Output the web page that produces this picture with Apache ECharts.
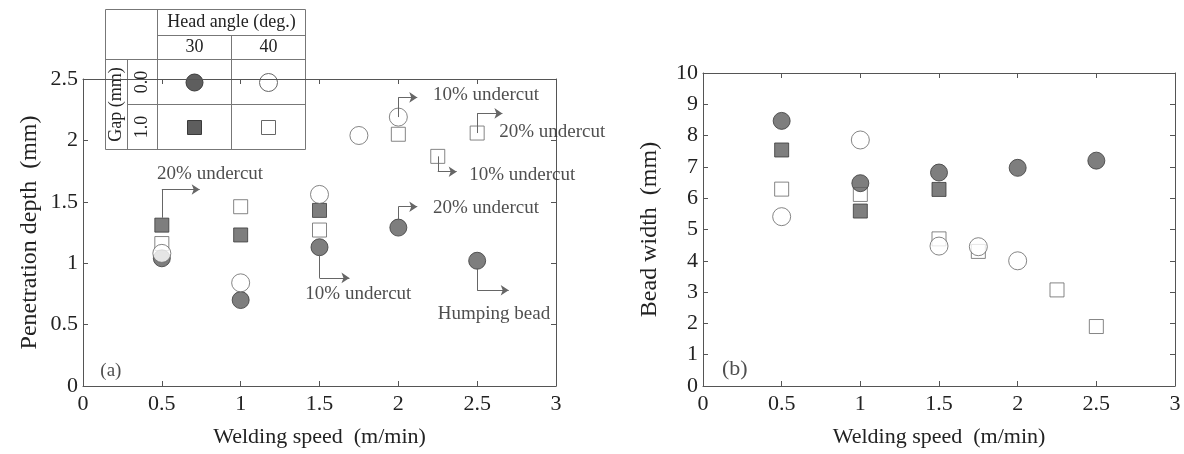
<!DOCTYPE html>
<html><head><meta charset="utf-8">
<script src="https://cdn.jsdelivr.net/npm/echarts@6/dist/echarts.min.js"></script>
<style>html,body{margin:0;padding:0;background:#fff}#c{width:1184px;height:454px}</style>
</head><body><div id="c"></div>
<script>
// ---------- (a) Penetration depth ----------
const aFilledCircleX = [0.5, 1.0, 1.5, 2.0, 2.5];
const aFilledCircleY = [1.04, 0.70, 1.13, 1.29, 1.02];
const aFilledSquareX = [0.5, 1.0, 1.5];
const aFilledSquareY = [1.31, 1.23, 1.43];
const aOpenCircleX = [0.5, 1.0, 1.5, 1.75, 2.0];
const aOpenCircleY = [1.08, 0.84, 1.56, 2.04, 2.19];
const aOpenSquareX = [0.5, 1.0, 1.5, 2.0, 2.25, 2.5];
const aOpenSquareY = [1.16, 1.46, 1.27, 2.05, 1.87, 2.06];

// ---------- (b) Bead width ----------
const bFilledCircleX = [0.5, 1.0, 1.5, 2.0, 2.5];
const bFilledCircleY = [8.47, 6.48, 6.82, 6.97, 7.20];
const bFilledSquareX = [0.5, 1.0, 1.5];
const bFilledSquareY = [7.54, 5.59, 6.28];
const bOpenCircleX = [0.5, 1.0, 1.5, 1.75, 2.0];
const bOpenCircleY = [5.41, 7.86, 4.47, 4.45, 4.00];
const bOpenSquareX = [0.5, 1.0, 1.5, 1.75, 2.25, 2.5];
const bOpenSquareY = [6.29, 6.12, 4.70, 4.30, 3.07, 1.90];

// ---------- annotations in (a): elbow arrows (data units) ----------
const arrowFromX = [0.5, 1.5, 2.0, 2.5, 2.25, 2.0, 2.5];
const arrowFromY = [1.37, 1.07, 2.19, 2.06, 1.87, 1.35, 0.96];
const arrowCornerY = [1.60, 0.88, 2.35, 2.22, 1.745, 1.46, 0.78];
const arrowToX = [0.74, 1.69, 2.12, 2.66, 2.37, 2.12, 2.70];

const noteText = ['20% undercut', '10% undercut', '10% undercut', '20% undercut', '10% undercut', '20% undercut', 'Humping bead', '(a)'];
const noteX = [0.47, 1.41, 2.22, 2.64, 2.45, 2.22, 2.25, 0.11];
const noteY = [1.73, 0.75, 2.37, 2.07, 1.72, 1.45, 0.59, 0.12];
const noteTextB = ['(b)'];
const noteXB = [0.12];
const noteYB = [0.53];

// ---------- axes ticks / labels ----------
const xMin = 0, xMax = 3, xStep = 0.5;
const aYMin = 0, aYMax = 2.5, aYStep = 0.5;
const bYMin = 0, bYMax = 10, bYStep = 1;
const xTitle = 'Welding speed  (m/min)';
const aYTitle = 'Penetration depth  (mm)';
const bYTitle = 'Bead width  (mm)';
const legendTitle = 'Head angle (deg.)';
const legendAngles = ['30', '40'];
const legendGapTitle = 'Gap (mm)';
const legendGaps = ['0.0', '1.0'];

const pair = (xs, ys) => xs.map((x, i) => [x, ys[i]]);
const FONT = '"Liberation Serif", "DejaVu Serif", serif';
const TXT = '#222';
const LINE = '#555';
const FILL = '#5e5e5e';

const axisCommon = {
  axisLine: { show: true, onZero: false, lineStyle: { color: LINE, width: 1 } },
  axisTick: { show: true, inside: true, length: 5, lineStyle: { color: LINE } },
  splitLine: { show: false },
  axisLabel: { fontFamily: FONT, fontSize: 22, color: TXT },
  nameTextStyle: { fontFamily: FONT, fontSize: 22, color: TXT }
};
function xAx(grid, pos, labels) {
  return Object.assign({}, axisCommon, {
    type: 'value', gridIndex: grid, position: pos, min: xMin, max: xMax, interval: xStep,
    axisLabel: Object.assign({}, axisCommon.axisLabel, { show: labels, margin: 7 }),
    name: labels ? xTitle : '', nameLocation: 'middle', nameGap: 40
  });
}
function yAx(grid, pos, labels, min, max, step, title, gap) {
  return Object.assign({}, axisCommon, {
    type: 'value', gridIndex: grid, position: pos, min: min, max: max, interval: step,
    axisLabel: Object.assign({}, axisCommon.axisLabel, { show: labels, margin: 5 }),
    name: labels ? title : '', nameLocation: 'middle', nameGap: gap,
    nameTextStyle: { fontFamily: FONT, fontSize: 24, color: TXT }
  });
}

const filledCircle = { symbol: 'circle', symbolSize: 17, itemStyle: { color: FILL, borderColor: '#3a3a3a', borderWidth: 1 } };
const filledSquare = { symbol: 'rect', symbolSize: 14, itemStyle: { color: FILL, borderColor: '#3a3a3a', borderWidth: 1 } };
const openCircle = { symbol: 'circle', symbolSize: 18, itemStyle: { color: '#fff', borderColor: '#666', borderWidth: 1 } };
const openSquare = { symbol: 'rect', symbolSize: 14, itemStyle: { color: '#fff', borderColor: '#666', borderWidth: 1 } };

function scat(style, data, xi, yi, z) {
  return Object.assign({ type: 'scatter', xAxisIndex: xi, yAxisIndex: yi, data: data, z: z, silent: true, animation: false }, style);
}
function notes(texts, xs, ys, xi, yi, size) {
  return {
    type: 'scatter', xAxisIndex: xi, yAxisIndex: yi, symbol: 'circle', symbolSize: 0, z: 10, animation: false, silent: true,
    itemStyle: { color: 'transparent' },
    data: texts.map((t, i) => ({ name: t, value: [xs[i], ys[i]] })),
    label: { show: true, position: 'right', distance: 0, formatter: p => p.name, fontFamily: FONT, fontSize: size, color: TXT }
  };
}

const vertSegs = arrowFromX.map((x, i) => ({ coords: [[x, arrowFromY[i]], [x, arrowCornerY[i]]] }));
const horizSegs = arrowFromX.map((x, i) => ({ coords: [[x, arrowCornerY[i]], [arrowToX[i], arrowCornerY[i]]] }));

const option = {
  backgroundColor: '#fff',
  animation: false,
  grid: [
    { left: 83, top: 79, width: 473, height: 307, outerBoundsMode: 'none', containLabel: false },
    { left: 703, top: 73, width: 472, height: 313, outerBoundsMode: 'none', containLabel: false }
  ],
  xAxis: [xAx(0, 'bottom', true), xAx(0, 'top', false), xAx(1, 'bottom', true), xAx(1, 'top', false)],
  yAxis: [
    yAx(0, 'left', true, aYMin, aYMax, aYStep, aYTitle, 41),
    yAx(0, 'right', false, aYMin, aYMax, aYStep, '', 0),
    yAx(1, 'left', true, bYMin, bYMax, bYStep, bYTitle, 41),
    yAx(1, 'right', false, bYMin, bYMax, bYStep, '', 0)
  ],
  series: [
    scat(openSquare, pair(aOpenSquareX, aOpenSquareY), 0, 0, 2),
    scat(filledSquare, pair(aFilledSquareX, aFilledSquareY), 0, 0, 3),
    scat(filledCircle, pair(aFilledCircleX, aFilledCircleY), 0, 0, 4),
    scat(openCircle, pair(aOpenCircleX, aOpenCircleY), 0, 0, 5),
    scat(openSquare, pair(bOpenSquareX, bOpenSquareY), 2, 2, 2),
    scat(filledSquare, pair(bFilledSquareX, bFilledSquareY), 2, 2, 3),
    scat(filledCircle, pair(bFilledCircleX, bFilledCircleY), 2, 2, 4),
    scat(openCircle, pair(bOpenCircleX, bOpenCircleY), 2, 2, 5),
    {
      type: 'lines', coordinateSystem: 'cartesian2d', xAxisIndex: 0, yAxisIndex: 0, z: 6, silent: true, animation: false,
      symbol: ['none', 'none'], lineStyle: { color: '#666', width: 1, opacity: 1 }, data: vertSegs
    },
    {
      type: 'lines', coordinateSystem: 'cartesian2d', xAxisIndex: 0, yAxisIndex: 0, z: 6, silent: true, animation: false,
      symbol: ['none', 'arrow'], symbolSize: 8, lineStyle: { color: '#666', width: 1, opacity: 1 }, itemStyle: { color: '#666' }, data: horizSegs
    },
    notes(noteText, noteX, noteY, 0, 0, 19),
    notes(noteTextB, noteXB, noteYB, 2, 2, 22)
  ],
  graphic: [{
    type: 'group', left: 103, top: 7, z: 100,
    children: [
      { type: 'rect', shape: { x: 0, y: 0, width: 200, height: 140 }, style: { fill: '#fff', stroke: '#777', lineWidth: 1 } },
      { type: 'line', shape: { x1: 52, y1: 0, x2: 52, y2: 140 }, style: { stroke: '#777' } },
      { type: 'line', shape: { x1: 22, y1: 50, x2: 22, y2: 140 }, style: { stroke: '#777' } },
      { type: 'line', shape: { x1: 126, y1: 26, x2: 126, y2: 140 }, style: { stroke: '#777' } },
      { type: 'line', shape: { x1: 52, y1: 26, x2: 200, y2: 26 }, style: { stroke: '#777' } },
      { type: 'line', shape: { x1: 0, y1: 50, x2: 200, y2: 50 }, style: { stroke: '#777' } },
      { type: 'line', shape: { x1: 22, y1: 95, x2: 200, y2: 95 }, style: { stroke: '#777' } },
      { type: 'text', x: 126, y: 13, style: { text: legendTitle, font: '18px ' + FONT, fill: TXT, align: 'center', verticalAlign: 'middle' } },
      { type: 'text', x: 89, y: 38, style: { text: legendAngles[0], font: '18px ' + FONT, fill: TXT, align: 'center', verticalAlign: 'middle' } },
      { type: 'text', x: 163, y: 38, style: { text: legendAngles[1], font: '18px ' + FONT, fill: TXT, align: 'center', verticalAlign: 'middle' } },
      { type: 'text', x: 11, y: 95, rotation: Math.PI / 2, style: { text: legendGapTitle, font: '18px ' + FONT, fill: TXT, align: 'center', verticalAlign: 'middle' } },
      { type: 'text', x: 37, y: 72.5, rotation: Math.PI / 2, style: { text: legendGaps[0], font: '18px ' + FONT, fill: TXT, align: 'center', verticalAlign: 'middle' } },
      { type: 'text', x: 37, y: 117.5, rotation: Math.PI / 2, style: { text: legendGaps[1], font: '18px ' + FONT, fill: TXT, align: 'center', verticalAlign: 'middle' } },
      { type: 'circle', shape: { cx: 89, cy: 73, r: 8.5 }, style: { fill: FILL, stroke: '#3a3a3a' } },
      { type: 'circle', shape: { cx: 163, cy: 73, r: 9 }, style: { fill: '#fff', stroke: '#666' } },
      { type: 'rect', shape: { x: 82, y: 111, width: 14, height: 14 }, style: { fill: FILL, stroke: '#3a3a3a' } },
      { type: 'rect', shape: { x: 156, y: 111, width: 14, height: 14 }, style: { fill: '#fff', stroke: '#666' } }
    ]
  }]
};
const chart = echarts.init(document.getElementById('c'), null, { renderer: 'canvas' });
chart.setOption(option);
</script>
</body></html>
